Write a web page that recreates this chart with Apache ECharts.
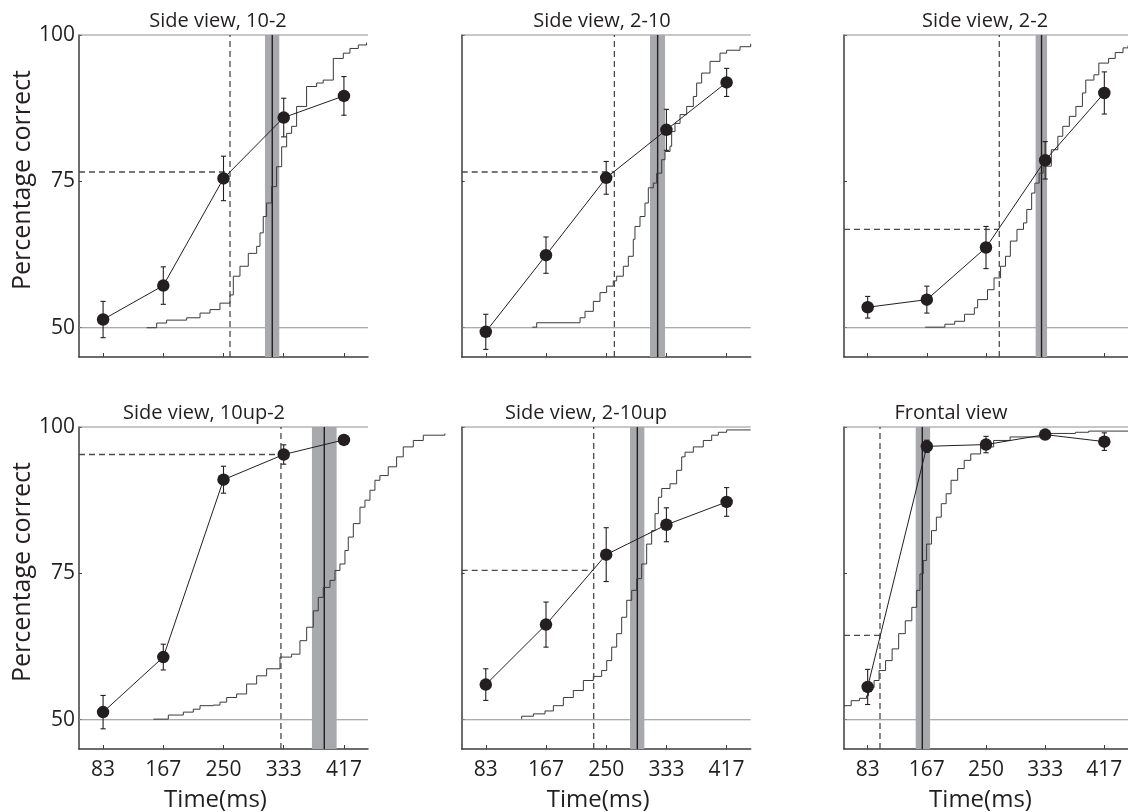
<!DOCTYPE html>
<html><head><meta charset="utf-8">
<script src="https://cdn.jsdelivr.net/npm/echarts@6/dist/echarts.min.js"></script>
<style>html,body{margin:0;padding:0;background:#fff}#c{width:1128px;height:812px}</style>
</head><body><div id="c"></div>
<script>
// ---------- data ----------
const titles = ['Side view, 10-2','Side view, 2-10','Side view, 2-2','Side view, 10up-2','Side view, 2-10up','Frontal view'];
const times = [83.33,166.67,250,333.33,416.67];
const timeLabels = ['83','167','250','333','417'];
const yTicks = [50,75,100];
const refLevels = [50,100];
const xName = 'Time(ms)';
const yName = 'Percentage correct';

const acc1 = [51.4,57.2,75.5,85.9,89.6];  const err1 = [3.1,3.2,3.8,3.3,3.3];
const acc2 = [49.3,62.4,75.6,83.8,91.9];  const err2 = [3.0,3.1,2.8,3.5,2.4];
const acc3 = [53.5,54.8,63.7,78.6,90.1];  const err3 = [1.85,2.3,3.6,3.2,3.6];
const acc4 = [51.3,60.7,91.0,95.3,97.8];  const err4 = [2.85,2.2,2.3,1.65,0.5];
const acc5 = [56.0,66.25,78.2,83.3,87.2]; const err5 = [2.7,3.85,4.6,2.9,2.45];
const acc6 = [55.6,96.7,97.0,98.7,97.5];  const err6 = [3.0,1.05,1.4,0.5,1.5];

// dashed threshold lines: [time, percentage]
const thr1 = [259,76.6]; const thr2 = [261.3,76.6]; const thr3 = [268.7,66.8];
const thr4 = [329.5,95.3]; const thr5 = [232.7,75.5]; const thr6 = [100.7,64.4];

// grey band: [low, centre, high] in ms
const band1 = [307.4,317.5,327.2]; const band2 = [310.6,321.2,331.4]; const band3 = [319.9,328.2,336.0];
const band4 = [372.4,389.5,406.6]; const band5 = [283.0,293.1,302.8]; const band6 = [151.0,160.3,171.3];

// cumulative staircase curves [ms, value]
const cdf1 = [[143.6,50.0],[157.5,50.8],[171.3,51.3],[199,51.7],[217.5,52.5],[231.3,53.1],[245.1,54.2],[259,55.6],[263.6,58.8],[272.8,60.5],[284.3,62.7],[295.9,63.9],[300.5,66.2],[305,69.0],[309.7,71.3],[316.6,74.1],[323.5,77.5],[330.5,80.9],[337.4,83.2],[344.3,84.4],[351.2,87.8],[365,91.2],[378.9,91.8],[388,92.3],[402,96.0],[415.8,96.9],[425,97.7],[436.6,98.3],[448,98.7]];
const cdf2 = [[147.8,50.1],[153.8,50.85],[212.4,50.85],[213.8,51.7],[220.7,52.8],[232.2,54.5],[241.4,56.0],[250.6,57.1],[259.8,58.0],[264.5,58.8],[273.7,60.5],[280.6,62.2],[287.5,65.1],[289.8,67.3],[296.8,69.0],[303.7,71.3],[308.3,73.9],[315.2,74.7],[319.9,76.4],[326.8,78.7],[331.4,80.1],[338.3,81.0],[340.6,83.5],[345.2,84.9],[352.2,86.4],[361.4,87.8],[370.6,89.5],[375.2,91.8],[382.1,93.5],[393.7,95.5],[407.5,96.9],[416.7,97.4],[435.2,98.0],[450,98.5]];
const cdf3 = [[164.4,50.1],[192.1,50.6],[205.9,51.1],[219.8,52.3],[233.6,53.4],[238.2,54.8],[252.1,56.5],[261.3,58.5],[270.5,60.5],[277.4,62.2],[284.3,64.8],[293.6,66.8],[302.8,67.9],[307.4,70.2],[314.3,73.0],[318.9,74.7],[324.9,76.4],[330.5,77.6],[342,80.4],[351.2,82.7],[358.1,84.4],[367.4,86.1],[376.6,87.8],[385.8,90.1],[390.5,92.3],[402,93.2],[408.9,95.2],[422.7,96.0],[432,97.0],[443,97.8],[450,98.2]];
const cdf4 = [[152.9,50.1],[171.3,50.1],[173.6,50.8],[194.4,51.3],[208.2,51.8],[217.5,52.4],[235.9,52.5],[245.1,53.0],[254.4,53.8],[268.2,54.4],[282,56.1],[295.9,57.5],[309.7,58.7],[328.2,60.7],[344.3,61.2],[355.8,63.5],[365.1,65.8],[374.3,68.6],[381.2,70.9],[388.1,72.6],[397.4,73.8],[404.3,75.5],[411.2,76.6],[418.1,78.9],[422.7,81.2],[429.7,83.5],[438.9,86.3],[445.8,87.5],[452.7,89.2],[459.6,90.9],[466.5,91.7],[478,93.2],[489.6,94.9],[498.8,96.6],[512.7,97.7],[526.5,98.6],[556.5,98.9]];
const cdf5 = [[133,50.1],[133,50.6],[149.2,51.0],[165.3,51.5],[176.9,52.4],[190.7,53.8],[204.5,55.0],[218.4,56.7],[232.2,57.4],[243.7,58.4],[250.7,60.1],[257.6,62.4],[264.5,64.7],[271.4,67.5],[278.4,70.4],[285.3,72.1],[292.2,74.1],[299.1,76.6],[306.0,80.0],[312.9,82.3],[317.6,85.2],[322.2,88.0],[326.8,89.5],[338.3,90.3],[347.5,92.6],[354.5,94.9],[359.1,95.7],[370.6,96.6],[384.4,97.7],[396,98.6],[405.2,99.1],[416.7,99.5],[450,99.5]];
const cdf6 = [[50,52.4],[60.1,53.25],[71.7,53.65],[81.8,54.1],[84.6,55.5],[92.4,56.7],[99.4,58.4],[108.6,60.1],[117.8,62.1],[127.0,64.7],[136.3,66.9],[145.5,69.2],[152.4,72.1],[157.0,74.9],[161.6,77.2],[166.3,80.0],[173.2,82.3],[180.1,84.6],[187.0,86.9],[193.9,88.6],[200.8,90.9],[210.1,92.9],[219.3,94.3],[228.5,95.4],[242.4,96.6],[260.8,97.7],[283.9,98.3],[330,98.9],[376.1,99.1],[394.6,99.3],[450,99.3]];

// ---------- layout ----------
const FONT = 'Open Sans';
const INK = '#231f20';
const AXIS = '#3c3c3c';
const gridLeft = [79, 461.7, 844];
const gridTop = [35, 427];
const W = 289, H = 322;
const titleCenterX = [218, 602, 985, 204, 586, 951];
const X_MIN = 50, X_MAX = 450, Y_MIN = 45, Y_MAX = 100;

const panels = [
  {acc:acc1, err:err1, thr:thr1, band:band1, cdf:cdf1},
  {acc:acc2, err:err2, thr:thr2, band:band2, cdf:cdf2},
  {acc:acc3, err:err3, thr:thr3, band:band3, cdf:cdf3},
  {acc:acc4, err:err4, thr:thr4, band:band4, cdf:cdf4},
  {acc:acc5, err:err5, thr:thr5, band:band5, cdf:cdf5},
  {acc:acc6, err:err6, thr:thr6, band:band6, cdf:cdf6}
];

const grids = [], xAxes = [], yAxes = [], series = [], graphics = [];
panels.forEach((p, i) => {
  const row = Math.floor(i / 3), col = i % 3;
  grids.push({left: gridLeft[col], top: gridTop[row], width: W, height: H, containLabel: false});
  xAxes.push({
    gridIndex: i, type: 'value', min: X_MIN, max: X_MAX,
    axisLine: {show: true, onZero: false, lineStyle: {color: AXIS, width: 1.5}},
    axisTick: {show: true, inside: true, length: 4, customValues: times, lineStyle: {color: AXIS, width: 1}},
    axisLabel: {show: row === 1, customValues: times, margin: 11, fontSize: 21, color: INK, fontFamily: FONT,
      formatter: v => { const k = times.findIndex(t => Math.abs(t - v) < 0.5); return k >= 0 ? timeLabels[k] : ''; }},
    splitLine: {show: false}
  });
  yAxes.push({
    gridIndex: i, type: 'value', min: Y_MIN, max: Y_MAX,
    axisLine: {show: true, onZero: false, lineStyle: {color: AXIS, width: 1.5}},
    axisTick: {show: true, inside: true, length: 3, customValues: yTicks, lineStyle: {color: AXIS, width: 1}},
    axisLabel: {show: col === 0, customValues: yTicks, margin: 4, fontSize: 21, color: INK, fontFamily: FONT},
    splitLine: {show: false}
  });

  // grey reference lines at chance / ceiling
  series.push({
    type: 'custom', xAxisIndex: i, yAxisIndex: i, z: 1, silent: true,
    data: refLevels.map(v => [X_MIN, v]),
    renderItem: (params, api) => {
      const y = api.value(1);
      const a = api.coord([X_MIN, y]), b = api.coord([X_MAX, y]);
      return {type: 'line', shape: {x1: a[0], y1: a[1], x2: b[0], y2: b[1]}, style: {stroke: '#8f8f8f', lineWidth: 1.1}};
    }
  });
  // grey band + centre line
  series.push({
    type: 'custom', xAxisIndex: i, yAxisIndex: i, z: 2, silent: true,
    data: [p.band],
    renderItem: (params, api) => {
      const lo = api.value(0), mid = api.value(1), hi = api.value(2);
      const a = api.coord([lo, Y_MAX]), b = api.coord([hi, Y_MIN]);
      const m1 = api.coord([mid, Y_MAX]), m2 = api.coord([mid, Y_MIN]);
      return {type: 'group', children: [
        {type: 'rect', shape: {x: a[0], y: a[1], width: b[0] - a[0], height: b[1] - a[1]}, style: {fill: '#a7a9ac'}},
        {type: 'line', shape: {x1: m1[0], y1: m1[1], x2: m2[0], y2: m2[1]}, style: {stroke: INK, lineWidth: 1.4}}
      ]};
    }
  });
  // cumulative staircase (each item: this point -> next point, horizontal then vertical)
  series.push({
    type: 'custom', xAxisIndex: i, yAxisIndex: i, z: 3, silent: true, clip: false,
    data: p.cdf.slice(0, -1).map((pt, k) => [pt[0], pt[1], p.cdf[k + 1][0], p.cdf[k + 1][1]]),
    renderItem: (params, api) => {
      const a = api.coord([api.value(0), api.value(1)]);
      const b = api.coord([api.value(2), api.value(1)]);
      const c = api.coord([api.value(2), api.value(3)]);
      return {type: 'polyline', shape: {points: [a, b, c]}, style: {stroke: '#3a3a3a', lineWidth: 1, fill: null}};
    }
  });
  // dashed threshold lines
  series.push({
    type: 'custom', xAxisIndex: i, yAxisIndex: i, z: 4, silent: true,
    data: [p.thr],
    renderItem: (params, api) => {
      const tx = api.value(0), ty = api.value(1);
      const v1 = api.coord([tx, Y_MIN]), v2 = api.coord([tx, Y_MAX]);
      const h1 = api.coord([X_MIN, ty]), h2 = api.coord([tx, ty]);
      const st = {stroke: '#4a4a4a', lineWidth: 1.3, lineDash: [6, 4]};
      return {type: 'group', children: [
        {type: 'line', shape: {x1: v1[0], y1: v1[1], x2: v2[0], y2: v2[1]}, style: st},
        {type: 'line', shape: {x1: h1[0], y1: h1[1], x2: h2[0], y2: h2[1]}, style: st}
      ]};
    }
  });
  // error bars
  series.push({
    type: 'custom', xAxisIndex: i, yAxisIndex: i, z: 5, silent: true,
    data: times.map((t, k) => [t, p.acc[k] - p.err[k], p.acc[k] + p.err[k]]),
    renderItem: (params, api) => {
      const t = api.value(0);
      const lo = api.coord([t, api.value(1)]), hi = api.coord([t, api.value(2)]);
      const c = 2.6, st = {stroke: INK, lineWidth: 1.1};
      return {type: 'group', children: [
        {type: 'line', shape: {x1: lo[0], y1: lo[1], x2: hi[0], y2: hi[1]}, style: st},
        {type: 'line', shape: {x1: lo[0] - c, y1: lo[1], x2: lo[0] + c, y2: lo[1]}, style: st},
        {type: 'line', shape: {x1: hi[0] - c, y1: hi[1], x2: hi[0] + c, y2: hi[1]}, style: st}
      ]};
    }
  });
  // accuracy points
  series.push({
    type: 'line', xAxisIndex: i, yAxisIndex: i, z: 6, silent: true,
    data: times.map((t, k) => [t, p.acc[k]]),
    symbol: 'circle', symbolSize: 12.5, showSymbol: true,
    itemStyle: {color: INK}, lineStyle: {color: INK, width: 1}
  });

  graphics.push({
    type: 'text', x: titleCenterX[i], y: gridTop[row] - 14,
    style: {text: titles[i], font: '20px "' + FONT + '"', fill: INK, textAlign: 'center', textVerticalAlign: 'middle'}
  });
  if (row === 1) {
    graphics.push({
      type: 'text', x: gridLeft[col] + W / 2 - 8, y: gridTop[row] + H + 51,
      style: {text: xName, font: '24px "' + FONT + '"', fill: INK, textAlign: 'center', textVerticalAlign: 'middle'}
    });
  }
  if (col === 0) {
    graphics.push({
      type: 'text', x: 22.5, y: gridTop[row] + H / 2 - 16, rotation: Math.PI / 2,
      style: {text: yName, font: '25px "' + FONT + '"', fill: INK, textAlign: 'center', textVerticalAlign: 'middle'}
    });
  }
});

const chart = echarts.init(document.getElementById('c'), null, {renderer: 'canvas'});
chart.setOption({
  animation: false,
  backgroundColor: '#fff',
  grid: grids, xAxis: xAxes, yAxis: yAxes, series: series,
  graphic: graphics
});
</script>
</body></html>
